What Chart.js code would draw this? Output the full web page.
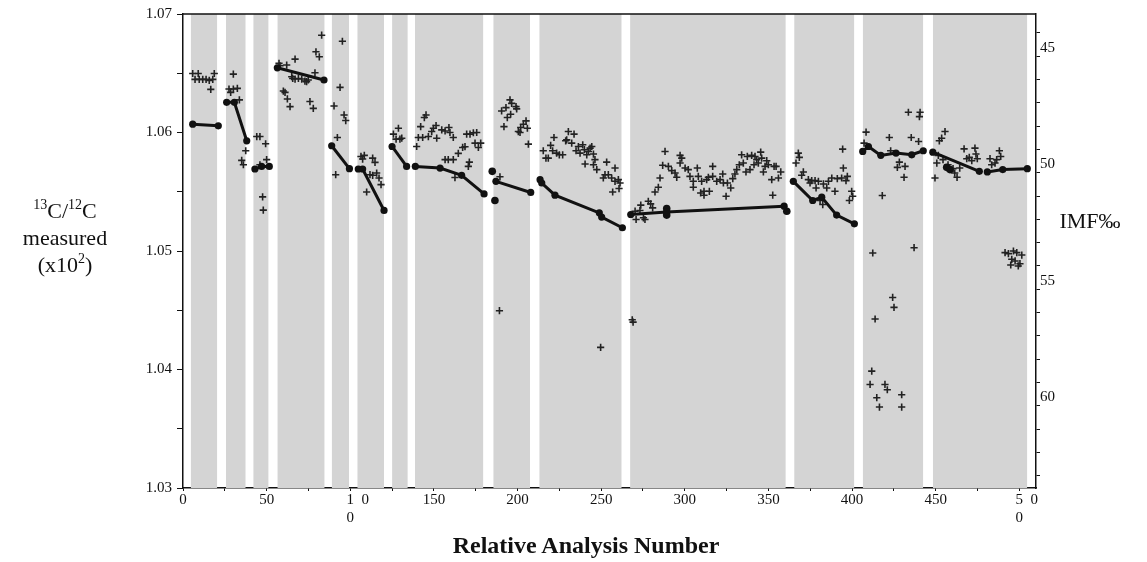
<!DOCTYPE html>
<html>
<head>
<meta charset="utf-8">
<script src="https://cdn.jsdelivr.net/npm/chart.js@4.4.1/dist/chart.umd.min.js"></script>
<style>
body{margin:0;background:#fff;}
#caja{position:relative;width:1147px;height:562px;font-family:"Liberation Serif",serif;color:#111;}
.tit{position:absolute;text-align:center;font-size:22px;line-height:27px;}
sup{font-size:14px;line-height:0;vertical-align:baseline;position:relative;top:-9px;}
</style>
</head>
<body>
<div id="caja">
<canvas id="grafico" width="1147" height="562"></canvas>
<div class="tit" style="left:0;width:130px;top:197px;"><sup>13</sup>C/<sup>12</sup>C<br>measured<br>(x10<sup>2</sup>)</div>
<div class="tit" style="left:1040px;width:100px;top:207px;">IMF‰</div>
<div class="tit" style="left:386px;width:400px;top:532px;font-weight:bold;font-size:24px;">Relative Analysis Number</div>
</div>
<script>
// franjas grises (numero de analisis)
var bandaIni=[4.6,25.7,42.0,56.4,88.9,104.2,125.0,138.7,185.5,213.0,267.3,365.4,406.4,448.3];
var bandaFin=[20.5,37.5,51.2,84.7,99.3,120.2,134.4,179.6,207.5,262.3,360.4,401.4,442.6,504.8];

// cruces: analisis individuales
var cruzN=[5.8,9.1,18.7,7.2,9.7,11.8,13.8,15.7,17.8,16.6,
30.1,27.5,30.1,32.5,28.5,33.7,37.5,35.1,36.1,
44.1,46.0,49.4,50.0,46.0,47.6,48.0,
57.4,58.0,62.0,67.0,65.0,67.0,69.0,71.0,72.9,74.9,65.6,73.9,78.9,79.5,81.5,82.9,60.0,61.0,62.4,64.0,75.9,77.9,
90.3,93.9,95.3,96.3,97.3,92.3,91.3,
106.4,108.4,107.4,113.4,114.8,111.8,113.4,115.8,117.2,118.4,109.8,
125.8,128.8,127.4,129.7,130.8,
139.7,142.1,140.7,144.3,145.3,146.7,143.3,148.7,149.7,151.3,151.7,154.7,156.7,159.0,159.6,161.6,156.7,158.6,161.6,162.6,164.6,167.2,168.6,169.6,171.6,173.6,175.6,174.6,176.6,178.0,171.2,170.6,
190.5,193.1,195.5,196.5,199.1,199.5,193.9,195.9,191.9,200.5,201.9,203.5,205.1,205.9,201.5,206.5,189.5,189.2,
215.4,217.0,218.4,219.8,221.8,221.0,223.4,225.0,227.0,229.4,230.4,228.8,232.4,233.8,235.0,236.4,237.4,239.0,240.0,240.4,241.4,242.4,243.4,244.4,245.4,246.3,245.4,247.4,253.3,254.3,251.3,252.3,256.3,258.3,258.3,260.3,261.3,256.9,260.7,249.7,
270.9,273.2,273.7,276.2,270.3,278.2,279.6,280.8,282.2,284.2,285.2,286.8,288.2,290.2,275.3,292.2,294.2,295.2,297.2,298.2,297.2,300.2,302.1,303.1,305.1,305.1,307.5,308.1,309.5,310.1,311.5,311.5,313.1,314.7,314.1,316.7,316.7,319.1,321.1,322.7,323.1,324.7,325.5,327.5,328.7,330.0,331.1,332.6,334.0,335.0,336.6,337.4,339.0,340.0,341.4,342.0,343.0,344.0,345.4,346.0,347.0,348.0,349.0,350.0,352.0,353.4,354.6,356.0,352.6,357.4,268.6,269.1,
367.9,368.5,366.5,370.9,369.9,373.9,375.9,374.9,377.9,379.9,378.5,382.9,384.9,385.9,387.9,389.8,391.2,382.5,380.9,394.4,394.8,393.8,396.4,397.2,399.8,400.4,398.4,
408.4,407.2,422.3,423.1,428.3,427.1,431.7,431.1,433.7,440.7,440.3,435.4,439.8,418.1,412.4,437.1,424.3,425.1,413.8,411.8,410.8,419.7,421.1,414.8,416.4,429.7,429.7,
455.6,453.6,452.2,451.6,450.7,449.6,454.4,457.4,460.4,461.4,462.8,464.4,467.0,468.6,470.1,471.6,473.5,474.1,474.9,482.5,483.5,485.5,488.1,488.9,486.5,
491.5,493.5,496.5,498.5,501.5,495.5,497.5,494.9,500.4,499.4];
var cruzV=[1.06498,1.06498,1.06498,1.06448,1.06448,1.06448,1.06448,1.06440,1.06448,1.06364,
1.06493,1.06367,1.06367,1.06372,1.06339,1.06275,1.05846,1.05765,1.05728,
1.05966,1.05966,1.05905,1.05771,1.05728,1.05457,1.05345,
1.06583,1.06563,1.06569,1.06619,1.06471,1.06451,1.06456,1.06451,1.06434,1.06443,1.06456,1.06429,1.06504,1.06681,1.06639,1.06821,1.06350,1.06339,1.06283,1.06218,1.06261,1.06204,
1.06224,1.06381,1.06770,1.06148,1.06101,1.05958,1.05644,
1.05798,1.05807,1.05776,1.05784,1.05748,1.05644,1.05639,1.05658,1.05616,1.05560,1.05498,
1.05986,1.06036,1.05944,1.05944,1.05952,
1.05882,1.06050,1.05958,1.06126,1.06148,1.05966,1.05958,1.06008,1.06036,1.06059,1.05952,1.06022,1.06013,1.06042,1.06000,1.05958,1.05771,1.05771,1.05771,1.05620,1.05824,1.05874,1.05880,1.05986,1.05986,1.05998,1.06000,1.05910,1.05874,1.05910,1.05750,1.05714,
1.06182,1.06210,1.06275,1.06246,1.06218,1.06199,1.06126,1.06154,1.06050,1.06008,1.06042,1.06070,1.06098,1.06036,1.06000,1.05902,1.05626,1.04496,
1.05846,1.05784,1.05784,1.05891,1.05958,1.05846,1.05826,1.05812,1.05812,1.05938,1.06008,1.05930,1.05910,1.05986,1.05846,1.05882,1.05826,1.05896,1.05855,1.05734,1.05812,1.05840,1.05868,1.05882,1.05818,1.05771,1.05728,1.05687,1.05750,1.05644,1.05616,1.05644,1.05616,1.05700,1.05588,1.05602,1.05574,1.05498,1.05527,1.04187,
1.05266,1.05342,1.05387,1.05266,1.05336,1.05420,1.05398,1.05364,1.05498,1.05538,1.05616,1.05723,1.05840,1.05714,1.05280,1.05678,1.05658,1.05622,1.05807,1.05784,1.05742,1.05700,1.05687,1.05630,1.05588,1.05538,1.05700,1.05630,1.05490,1.05588,1.05471,1.05504,1.05602,1.05504,1.05622,1.05714,1.05630,1.05588,1.05602,1.05650,1.05574,1.05462,1.05574,1.05532,1.05611,1.05650,1.05687,1.05728,1.05812,1.05742,1.05667,1.05798,1.05687,1.05807,1.05728,1.05798,1.05771,1.05742,1.05834,1.05784,1.05667,1.05714,1.05762,1.05728,1.05602,1.05714,1.05714,1.05616,1.05471,1.05667,1.04420,1.04400,
1.05826,1.05790,1.05742,1.05667,1.05639,1.05602,1.05594,1.05574,1.05594,1.05588,1.05532,1.05566,1.05532,1.05588,1.05616,1.05504,1.05611,1.05392,1.05426,1.05860,1.05700,1.05616,1.05594,1.05630,1.05504,1.05462,1.05426,
1.06003,1.05910,1.05958,1.05846,1.05750,1.05706,1.05714,1.05622,1.06171,1.06171,1.06134,1.05958,1.05924,1.05468,1.04983,1.05028,1.04608,1.04524,1.04426,1.03986,1.03874,1.03874,1.03829,1.03762,1.03683,1.03787,1.03683,
1.06008,1.05952,1.05930,1.05807,1.05742,1.05616,1.05771,1.05728,1.05695,1.05658,1.05622,1.05700,1.05862,1.05779,1.05790,1.05762,1.05868,1.05818,1.05779,1.05779,1.05728,1.05742,1.05846,1.05798,1.05771,
1.04986,1.04978,1.05000,1.04986,1.04966,1.04930,1.04916,1.04882,1.04893,1.04874];

// medias de referencia (lineas con puntos), null separa tramos
var lineaN=[5.8,21.1,null,26.1,30.7,38.1,null,43.0,47.0,51.6,null,56.4,84.3,null,88.9,99.5,null,104.8,107.4,120.2,null,
125.0,133.7,null,138.9,153.7,166.6,180.0,null,187.1,207.9,null,213.5,214.5,222.4,248.9,250.3,262.7,null,
267.7,289.2,359.4,null,364.9,376.5,381.9,390.8,401.4,null,406.4,409.8,417.2,426.3,435.7,442.6,null,
448.3,476.1,null,480.9,490.1,504.8];
var lineaV=[1.0607,1.06056,null,1.06255,1.06255,1.0593,null,1.05692,1.05714,1.05714,null,1.06546,1.06443,null,1.05888,1.05695,null,1.05692,1.05692,1.05342,null,
1.05882,1.05714,null,1.05714,1.05700,1.05639,1.05482,null,1.05588,1.05494,null,1.05602,1.05574,1.05471,1.05322,1.05286,1.05196,null,
1.05308,1.05330,1.05378,null,1.05588,1.05426,1.05454,1.05303,1.05229,null,1.0584,1.05882,1.05807,1.05826,1.05812,1.05846,null,
1.05834,1.05672,null,1.05667,1.05687,1.05695];
var puntoN=[184.9,186.5,289.2,289.2,361.0,456.6,458.6];
var puntoV=[1.05672,1.05426,1.05359,1.05303,1.05336,1.05706,1.05687];

// ejes
var xTicks=[0,25,50,75,100,125,150,175,200,225,250,275,300,325,350,375,400,425,450,475,500];
var xTextos={0:"0",50:"50",100:["    1  0","0"],150:"150",200:"200",250:"250",300:"300",350:"350",400:"400",450:"450",500:["    5  0","0"]};
var yTicks=[1.03,1.035,1.04,1.045,1.05,1.055,1.06,1.065,1.07];
var yTextos=["1.03","","1.04","","1.05","","1.06","","1.07"];
var imfTicks=[45,46,47,48,49,50,51,52,53,54,55,56,57,58,59,60,61,62,63,64];
var imfTextos={45:"45",50:"50",55:"55",60:"60"};

var gris="#d4d4d4";
var fuente={family:"Liberation Serif",size:15};

function puntos(ns,vs){
    var res=[];
    for(var i=0;i<ns.length;i++){
        res.push({x:ns[i],y:vs[i]});
    }
    return res;
}

function tramos(ns,vs){
    var lista=[];
    var actual=[];
    for(var i=0;i<ns.length;i++){
        if(ns[i]==null){
            lista.push(actual);
            actual=[];
        }else{
            actual.push({x:ns[i],y:vs[i]});
        }
    }
    lista.push(actual);
    return lista;
}

var datasets=[];
for(var b=0;b<bandaIni.length;b++){
    datasets.push({type:"line",data:[{x:bandaIni[b],y:1.07},{x:bandaFin[b],y:1.07}],
        fill:"start",backgroundColor:gris,borderWidth:0,pointRadius:0,order:10});
}
datasets.push({type:"scatter",data:puntos(cruzN,cruzV),pointStyle:"cross",pointRadius:3.6,
    borderColor:"#222",borderWidth:1.6,order:2});
tramos(lineaN,lineaV).forEach(function(t){
    datasets.push({type:"line",data:t,borderColor:"#111",borderWidth:3,pointRadius:3.6,
        pointBackgroundColor:"#111",pointBorderColor:"#111",pointBorderWidth:0,fill:false,order:1});
});
datasets.push({type:"scatter",data:puntos(puntoN,puntoV),pointRadius:3.8,
    backgroundColor:"#111",borderColor:"#111",borderWidth:0,order:1});

var bordeArriba={
    id:"bordeArriba",
    afterDraw:function(chart){
        var a=chart.chartArea;
        var ctx=chart.ctx;
        ctx.save();
        ctx.strokeStyle="#111";
        ctx.lineWidth=1.5;
        ctx.beginPath();
        ctx.moveTo(a.left,a.top);
        ctx.lineTo(a.right,a.top);
        ctx.stroke();
        ctx.restore();
    }
};

var chart=new Chart(document.getElementById("grafico").getContext("2d"),{
    type:"scatter",
    data:{datasets:datasets},
    plugins:[bordeArriba],
    options:{
        responsive:false,
        animation:false,
        devicePixelRatio:1,
        layout:{padding:{top:12,left:0,right:0,bottom:0}},
        plugins:{legend:{display:false},tooltip:{enabled:false}},
        scales:{
            x:{type:"linear",min:0,max:510,
                afterBuildTicks:function(s){s.ticks=xTicks.map(function(v){return {value:v};});},
                afterFit:function(s){s.height=74;},
                ticks:{autoSkip:false,maxRotation:0,padding:0,color:"#111",font:fuente,
                    callback:function(v){return xTextos[v]!==undefined?xTextos[v]:"";}},
                grid:{drawOnChartArea:false,tickLength:3,tickColor:"#111"},
                border:{color:"#111",width:1.5}},
            y:{type:"linear",position:"left",min:1.03,max:1.07,
                afterBuildTicks:function(s){s.ticks=yTicks.map(function(v){return {value:v};});},
                afterFit:function(s){s.width=183;},
                ticks:{autoSkip:false,padding:5,color:"#111",font:fuente,
                    callback:function(v,i){return yTextos[i];}},
                grid:{drawOnChartArea:false,tickLength:6,tickColor:"#111"},
                border:{color:"#111",width:1.5}},
            imf:{type:"linear",position:"right",min:44.19,max:64.53,reverse:true,
                afterBuildTicks:function(s){s.ticks=imfTicks.map(function(v){return {value:v};});},
                afterFit:function(s){s.width=111;},
                ticks:{autoSkip:false,padding:0,labelOffset:15,color:"#111",font:fuente,
                    callback:function(v){return imfTextos[v]||"";}},
                grid:{drawOnChartArea:false,tickLength:4,tickColor:"#111"},
                border:{color:"#111",width:1.5}}
        }
    }
});
</script>
</body>
</html>
